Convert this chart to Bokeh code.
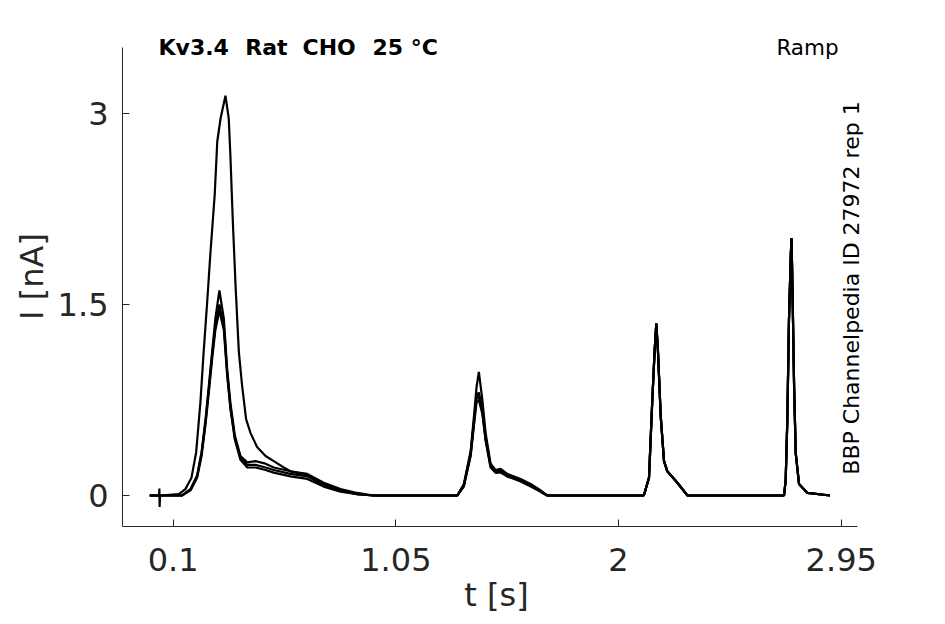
from bokeh.plotting import figure
from bokeh.models import FixedTicker, Range1d, Label, Title
from bokeh.embed import file_html
from bokeh.resources import INLINE
import math

# ---------------- data ----------------
x_ticks = [0.1, 1.05, 2.0, 2.95]
x_tick_labels = ["0.1", "1.05", "2", "2.95"]
y_ticks = [0.0, 1.5, 3.0]
y_tick_labels = ["0", "1.5", "3"]

# first pulse, large sweep (with the artefact spike near t=0.04)
seg1_t_big = [0.0, 0.040, 0.041, 0.042, 0.044, 0.124, 0.152, 0.178, 0.198, 0.216,
              0.230, 0.245, 0.259, 0.277, 0.288, 0.302, 0.323, 0.337, 0.344, 0.354,
              0.366, 0.380, 0.394, 0.411, 0.430, 0.458, 0.494, 0.529, 0.572, 0.600,
              0.672, 0.742, 0.814, 0.885, 0.955]
seg1_I_big = [0.0, 0.0, 0.055, -0.09, 0.0, 0.01, 0.05, 0.14, 0.34, 0.73,
              1.13, 1.52, 1.91, 2.36, 2.78, 2.96, 3.14, 2.96, 2.67, 2.17,
              1.65, 1.13, 0.86, 0.60, 0.49, 0.38, 0.31, 0.27, 0.22, 0.19,
              0.16, 0.09, 0.04, 0.01, 0.0]

# first pulse, smaller sweeps
seg1_t_small = [0.0, 0.138, 0.174, 0.202, 0.221, 0.238, 0.252, 0.266, 0.280, 0.297,
                0.316, 0.330, 0.344, 0.363, 0.387, 0.416, 0.451, 0.494, 0.529, 0.600,
                0.672, 0.742, 0.814, 0.885, 0.955]
seg1_I_B = [0.0, 0.0, 0.05, 0.16, 0.34, 0.60, 0.86, 1.13, 1.39, 1.61,
            1.39, 1.00, 0.73, 0.47, 0.31, 0.26, 0.27, 0.25, 0.22, 0.19,
            0.17, 0.10, 0.05, 0.02, 0.0]
seg1_I_C = [0.0, 0.0, 0.05, 0.15, 0.33, 0.58, 0.84, 1.10, 1.33, 1.50,
            1.33, 0.97, 0.70, 0.45, 0.30, 0.24, 0.24, 0.22, 0.20, 0.17,
            0.15, 0.08, 0.04, 0.01, 0.0]
seg1_I_D = [0.0, 0.0, 0.04, 0.14, 0.31, 0.56, 0.81, 1.07, 1.30, 1.45,
            1.30, 0.95, 0.68, 0.44, 0.28, 0.22, 0.22, 0.20, 0.18, 0.15,
            0.13, 0.07, 0.03, 0.01, 0.0]

# second pulse
seg2_t = [1.312, 1.340, 1.369, 1.383, 1.394, 1.404, 1.419, 1.433, 1.454, 1.475,
          1.497, 1.525, 1.582, 1.625, 1.668, 1.696]
seg2_I_A = [0.0, 0.09, 0.35, 0.62, 0.85, 0.97, 0.75, 0.49, 0.25, 0.20,
            0.21, 0.17, 0.13, 0.09, 0.04, 0.0]
seg2_I_B = [0.0, 0.08, 0.33, 0.58, 0.78, 0.81, 0.68, 0.45, 0.24, 0.19,
            0.20, 0.16, 0.12, 0.08, 0.03, 0.0]
seg2_I_C = [0.0, 0.08, 0.32, 0.57, 0.76, 0.78, 0.66, 0.44, 0.23, 0.18,
            0.19, 0.15, 0.12, 0.08, 0.03, 0.0]
seg2_I_D = [0.0, 0.07, 0.31, 0.55, 0.73, 0.75, 0.64, 0.43, 0.22, 0.18,
            0.18, 0.15, 0.11, 0.07, 0.03, 0.0]

# third pulse
seg3_t = [2.108, 2.130, 2.144, 2.154, 2.161, 2.168, 2.180, 2.194, 2.208, 2.251, 2.294]
seg3_I = [0.0, 0.14, 0.75, 1.14, 1.35, 1.14, 0.62, 0.27, 0.19, 0.10, 0.0]

# fourth pulse
seg4_t = [2.706, 2.713, 2.720, 2.727, 2.735, 2.738, 2.742, 2.749, 2.756, 2.770, 2.806, 2.902]
seg4_I = [0.0, 0.12, 0.59, 1.37, 1.90, 2.02, 1.63, 0.85, 0.33, 0.09, 0.02, 0.0]

sweeps = [
    (seg1_t_big, seg1_I_big, seg2_I_A),
    (seg1_t_small, seg1_I_B, seg2_I_B),
    (seg1_t_small, seg1_I_C, seg2_I_C),
    (seg1_t_small, seg1_I_D, seg2_I_D),
]

title_words = ["Kv3.4", "Rat", "CHO", "25 °C"]
protocol_text = "Ramp"
side_text = "BBP Channelpedia ID 27972 rep 1"
x_label = "t [s]"
y_label = "I [nA]"

# ---------------- figure ----------------
FONT = "DejaVu Sans"
DARK = "#262626"

p = figure(frame_width=748, frame_height=500, output_backend="svg", toolbar_location=None,
           x_range=Range1d(-0.1163, 3.0749), y_range=Range1d(-0.2435, 3.6833),
           min_border_left=122, min_border_right=60, min_border_top=26,
           min_border_bottom=60)
p.outline_line_color = None
p.xgrid.visible = False
p.ygrid.visible = False
p.background_fill_color = "white"
p.border_fill_color = "white"

for t1, i1, i2 in sweeps:
    ts = list(t1) + seg2_t + seg3_t + seg4_t
    cs = list(i1) + i2 + seg3_I + seg4_I
    p.line(ts, cs, line_color="black", line_width=2.2)

for ax in (p.xaxis[0], p.yaxis[0]):
    ax.axis_line_color = DARK
    ax.major_tick_line_color = DARK
    ax.major_tick_in = 7
    ax.major_tick_out = 0
    ax.minor_tick_line_color = None
    ax.major_label_text_font = FONT
    ax.major_label_text_font_size = "32px"
    ax.major_label_text_color = DARK
    ax.axis_label_text_font = FONT
    ax.axis_label_text_font_size = "32px"
    ax.axis_label_text_font_style = "normal"
    ax.axis_label_text_color = DARK

p.xaxis.bounds = (-0.1163, 3.0195)
p.yaxis.bounds = (-0.2435, 3.5184)
p.xaxis.ticker = FixedTicker(ticks=x_ticks)
p.xaxis.major_label_overrides = dict(zip(x_ticks, x_tick_labels))
p.yaxis.ticker = FixedTicker(ticks=y_ticks)
p.yaxis.major_label_overrides = dict(zip(y_ticks, y_tick_labels))
p.xaxis.axis_label = x_label
p.xaxis.major_label_standoff = 21
p.yaxis.major_label_standoff = 14
p.xaxis.axis_label_standoff = 2

# y-axis label as a side title so it can be centred on the drawn axis extent
p.add_layout(Title(text=y_label, align="center", offset=-11, standoff=8,
                   text_font=FONT, text_font_size="32px", text_font_style="normal",
                   text_color=DARK), "left")

title_x = [0.0373, 0.4072, 0.6516, 0.9503]
for word, tx in zip(title_words, title_x):
    p.add_layout(Label(x=tx, y=3.521, text=word, text_font=FONT,
                       text_font_size="22px", text_font_style="bold",
                       text_color="black", text_align="left", text_baseline="alphabetic"))
p.add_layout(Label(x=2.8062, y=3.521, text=protocol_text, text_font=FONT,
                   text_font_size="21.5px", text_color="black",
                   text_align="center", text_baseline="alphabetic"))
p.add_layout(Label(x=2.9952, y=1.6296, text=side_text, text_font=FONT,
                   text_font_size="22px", text_color="black", angle=math.pi / 2,
                   text_align="center", text_baseline="alphabetic"))

open("out.html", "w").write(file_html(p, INLINE))
